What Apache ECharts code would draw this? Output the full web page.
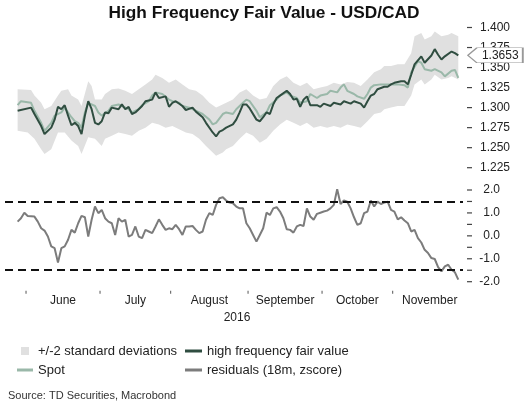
<!DOCTYPE html>
<html>
<head>
<meta charset="utf-8">
<script src="https://cdn.jsdelivr.net/npm/echarts@6/dist/echarts.min.js"></script>
<style>html,body{margin:0;padding:0;background:#fff}#c{width:528px;height:406px}</style>
</head>
<body>
<div id="c"></div>
<script>
// Business-day calendar (categories): index 0 = 2016-05-27
const firstDay = '2016-05-27';
const lastDay = '2016-11-30';
const monthNames = ['January','February','March','April','May','June','July','August','September','October','November','December'];
const shownMonths = ['June','July','August','September','October','November'];
const yearLabel = '2016';

// [business-day index, value]
const fairValue = [[0,1.296],[4,1.300],[5,1.292],[7,1.277],[8,1.267],[10,1.275],[11,1.285],[12,1.301],[13,1.298],[14,1.303],[15,1.290],[16,1.278],[17,1.281],[18,1.277],[19,1.267],[20,1.290],[21,1.308],[22,1.298],[23,1.281],[24,1.279],[25,1.283],[26,1.294],[27,1.293],[28,1.300],[30,1.298],[31,1.304],[32,1.298],[33,1.301],[34,1.292],[35,1.294],[37,1.302],[38,1.308],[40,1.310],[41,1.319],[42,1.312],[44,1.314],[45,1.301],[46,1.306],[47,1.308],[49,1.302],[50,1.297],[52,1.300],[53,1.295],[55,1.288],[56,1.281],[58,1.269],[59,1.264],[60,1.270],[61,1.272],[62,1.275],[64,1.279],[65,1.285],[66,1.294],[67,1.304],[68,1.304],[69,1.299],[71,1.285],[72,1.283],[73,1.288],[74,1.294],[75,1.292],[76,1.304],[77,1.312],[78,1.315],[80,1.321],[81,1.317],[82,1.310],[83,1.311],[84,1.301],[85,1.310],[86,1.314],[87,1.303],[89,1.303],[90,1.301],[91,1.305],[93,1.302],[94,1.306],[96,1.304],[97,1.308],[99,1.305],[100,1.308],[102,1.305],[103,1.300],[104,1.308],[105,1.315],[106,1.317],[107,1.323],[109,1.326],[110,1.326],[111,1.329],[112,1.331],[114,1.333],[115,1.333],[116,1.329],[117,1.341],[118,1.354],[120,1.364],[121,1.356],[123,1.365],[124,1.373],[125,1.366],[126,1.360],[127,1.364],[129,1.370],[130,1.368],[131,1.3653]];

const spot = [[0,1.303],[1,1.308],[4,1.306],[5,1.296],[7,1.281],[8,1.271],[10,1.281],[11,1.290],[13,1.294],[14,1.300],[16,1.288],[17,1.283],[18,1.281],[19,1.275],[20,1.294],[21,1.306],[23,1.302],[24,1.294],[25,1.290],[27,1.296],[28,1.302],[30,1.304],[31,1.302],[33,1.298],[34,1.294],[36,1.298],[37,1.303],[39,1.308],[40,1.315],[41,1.319],[43,1.317],[45,1.310],[46,1.308],[48,1.306],[49,1.302],[51,1.300],[52,1.298],[54,1.294],[55,1.292],[57,1.285],[58,1.279],[59,1.281],[61,1.292],[62,1.294],[64,1.292],[65,1.298],[67,1.306],[68,1.310],[69,1.308],[71,1.296],[72,1.288],[74,1.294],[75,1.303],[77,1.310],[78,1.315],[80,1.319],[81,1.315],[83,1.312],[84,1.306],[86,1.308],[87,1.317],[89,1.312],[90,1.315],[92,1.317],[93,1.321],[95,1.319],[96,1.325],[97,1.329],[98,1.321],[100,1.317],[101,1.314],[103,1.311],[104,1.317],[105,1.325],[106,1.328],[108,1.329],[109,1.329],[110,1.329],[112,1.329],[113,1.329],[115,1.328],[116,1.325],[117,1.344],[119,1.358],[120,1.356],[121,1.348],[123,1.346],[124,1.348],[126,1.344],[127,1.339],[129,1.346],[130,1.347],[131,1.337]];

const bandUpper = [[0,1.323],[4,1.322],[5,1.315],[7,1.306],[8,1.298],[10,1.302],[12,1.315],[13,1.321],[15,1.323],[16,1.315],[18,1.310],[19,1.302],[21,1.333],[22,1.327],[23,1.310],[25,1.310],[26,1.317],[28,1.323],[30,1.324],[32,1.321],[34,1.317],[36,1.323],[38,1.329],[40,1.335],[41,1.341],[43,1.337],[45,1.331],[47,1.335],[49,1.329],[51,1.323],[53,1.321],[55,1.315],[57,1.306],[59,1.300],[60,1.302],[62,1.306],[64,1.310],[66,1.319],[68,1.323],[70,1.315],[72,1.310],[74,1.312],[76,1.327],[78,1.335],[80,1.339],[82,1.331],[84,1.327],[86,1.331],[88,1.323],[90,1.325],[92,1.327],[94,1.331],[96,1.329],[98,1.332],[100,1.331],[102,1.327],[104,1.335],[106,1.344],[108,1.348],[109,1.352],[111,1.352],[113,1.354],[115,1.354],[117,1.368],[118,1.389],[120,1.393],[121,1.385],[123,1.389],[124,1.395],[126,1.389],[128,1.391],[129,1.393],[131,1.389]];

const bandLower = [[0,1.271],[3,1.269],[5,1.261],[7,1.248],[8,1.242],[10,1.248],[12,1.269],[14,1.269],[16,1.259],[18,1.252],[19,1.242],[21,1.263],[23,1.261],[25,1.252],[26,1.261],[28,1.265],[30,1.269],[32,1.267],[34,1.265],[36,1.271],[38,1.275],[40,1.281],[42,1.279],[44,1.275],[46,1.277],[48,1.273],[50,1.269],[52,1.267],[54,1.261],[56,1.252],[58,1.244],[59,1.240],[61,1.244],[62,1.248],[64,1.252],[66,1.261],[68,1.269],[70,1.265],[72,1.256],[74,1.261],[76,1.271],[78,1.279],[80,1.285],[82,1.281],[84,1.277],[86,1.281],[88,1.275],[90,1.277],[92,1.275],[94,1.277],[96,1.275],[98,1.279],[100,1.277],[102,1.275],[104,1.283],[106,1.292],[108,1.294],[109,1.298],[111,1.300],[113,1.302],[115,1.302],[117,1.315],[118,1.329],[120,1.335],[121,1.329],[123,1.335],[124,1.341],[126,1.335],[128,1.337],[129,1.339],[131,1.335]];

const residuals = [[0,0.62],[1,0.77],[2,1.01],[3,0.87],[5,0.84],[6,0.62],[7,0.33],[8,0.23],[9,-0.03],[10,-0.46],[11,-0.54],[12,-1.16],[13,-0.54],[14,-0.46],[15,-0.17],[16,0.26],[17,0.14],[18,0.55],[19,0.87],[20,0.81],[21,-0.03],[22,0.70],[23,1.28],[24,0.99],[25,1.13],[26,0.77],[27,0.62],[28,0.55],[29,0.04],[30,0.77],[31,0.62],[32,0.70],[33,-0.03],[34,0.04],[35,0.41],[36,-0.03],[37,-0.10],[38,0.26],[39,0.19],[40,0.12],[41,0.41],[42,0.72],[43,0.48],[44,0.26],[45,0.33],[46,0.29],[47,0.48],[48,0.29],[49,0.04],[50,0.41],[51,0.41],[52,0.43],[53,0.26],[54,0.12],[55,0.19],[56,0.70],[57,0.99],[58,0.91],[59,1.35],[60,1.64],[61,1.68],[62,1.54],[63,1.45],[64,1.42],[65,1.28],[66,1.20],[67,1.20],[68,0.55],[69,0.33],[70,0.04],[71,-0.25],[72,0.04],[73,0.33],[74,1.01],[75,0.91],[76,1.20],[77,1.25],[78,1.06],[79,0.77],[80,0.29],[81,0.26],[82,0.14],[83,0.41],[84,0.48],[85,0.43],[86,1.20],[87,0.84],[88,0.70],[89,0.96],[90,1.01],[91,1.06],[92,1.10],[93,1.20],[94,1.35],[95,2.03],[96,1.39],[97,1.54],[98,1.49],[99,1.20],[100,0.81],[101,0.48],[102,0.55],[103,0.99],[104,1.06],[105,1.54],[106,1.28],[107,1.49],[108,1.39],[109,1.45],[110,1.49],[111,1.13],[112,1.06],[113,0.72],[114,0.81],[115,0.67],[116,0.55],[117,0.19],[118,0.26],[119,-0.10],[120,-0.29],[121,-0.61],[122,-0.75],[123,-0.97],[124,-1.01],[125,-1.36],[126,-1.55],[127,-1.33],[128,-1.26],[129,-1.48],[130,-1.59],[131,-1.91]];

const thresholds = [1.5, -1.5];
const topTicks = { min: 1.225, max: 1.400, step: 0.025 };
const bottomTicks = { min: -2, max: 2, step: 0.5 };

// ---- calendar helpers ----
function businessDays(a, b) {
  const out = [];
  const d = new Date(a + 'T00:00:00Z'), e = new Date(b + 'T00:00:00Z');
  while (d <= e) {
    const w = d.getUTCDay();
    if (w !== 0 && w !== 6) out.push(d.toISOString().slice(0, 10));
    d.setUTCDate(d.getUTCDate() + 1);
  }
  return out;
}
const days = businessDays(firstDay, lastDay);
const monthBounds = [];
const monthStartIdx = {};
for (let i = 1; i < days.length; i++) {
  if (days[i].slice(5, 7) !== days[i - 1].slice(5, 7)) {
    monthBounds.push(i - 0.5);
    monthStartIdx[monthNames[+days[i].slice(5, 7) - 1]] = i - 0.5;
  }
}
const monthCenters = [];
const centerName = {};
shownMonths.forEach((m, k) => {
  const s = monthStartIdx[m];
  const e = k + 1 < shownMonths.length ? monthStartIdx[shownMonths[k + 1]] : days.length - 0.5;
  const c = (s + e) / 2;
  monthCenters.push(c);
  centerName[c.toFixed(2)] = m;
});
const boundSet = {};
monthBounds.forEach(b => { boundSet[b.toFixed(2)] = true; });
const xLabelValues = monthBounds.concat(monthCenters).sort((a, b) => a - b);

function tickList(t) {
  const n = Math.round((t.max - t.min) / t.step);
  const out = [];
  for (let i = 0; i <= n; i++) out.push(+(t.min + i * t.step).toFixed(4));
  return out;
}

const FONT = 'Liberation Sans, Arial, sans-serif';
const xMin = -3.75, xMax = 132.4;
const lastFV = fairValue[fairValue.length - 1];
const noLine = { show: false, onZero: false };

// axis tick dashes on the right, placed through the axis scale
function tickSeries(gridIdx, t) {
  return {
    type: 'custom', xAxisIndex: gridIdx, yAxisIndex: gridIdx, silent: true, clip: false, z: 5,
    data: tickList(t).map(v => [xMax, v]),
    renderItem: (params, api) => {
      const p = api.coord([api.value(0), api.value(1)]);
      return { type: 'line', shape: { x1: p[0] + 4, y1: p[1], x2: p[0] + 9, y2: p[1] }, style: { stroke: '#444', lineWidth: 1.2 } };
    }
  };
}

const chart = echarts.init(document.getElementById('c'), null, { renderer: 'canvas' });
chart.setOption({
  animation: false,
  backgroundColor: '#fff',
  textStyle: { fontFamily: FONT },
  title: {
    text: 'High Frequency Fair Value - USD/CAD',
    left: 'center', top: 0,
    textStyle: { fontSize: 17.3, fontWeight: 'bold', color: '#111', fontFamily: FONT }
  },
  grid: [
    { left: 5, right: 65, top: 27.5, height: 140.2 },
    { left: 5, right: 65, top: 190, height: 91.7 }
  ],
  xAxis: [
    { type: 'value', gridIndex: 0, min: xMin, max: xMax, show: false, axisLine: { onZero: false } },
    {
      type: 'value', gridIndex: 1, min: xMin, max: xMax, offset: 8, position: 'bottom',
      axisLine: noLine, axisTick: { show: false },
      splitLine: { show: false },
      axisLabel: {
        customValues: xLabelValues, margin: 1, hideOverlap: false,
        verticalAlign: 'top',
        formatter: v => {
          const k = Number(v).toFixed(2);
          if (boundSet[k]) return '{t|}';
          return '{m|' + (centerName[k] || '') + '}';
        },
        rich: {
          t: { width: 1, height: 3, backgroundColor: '#555', padding: 0 },
          m: { fontSize: 12, color: '#222', fontFamily: FONT, padding: [6, 0, 0, 0], lineHeight: 14 }
        }
      }
    }
  ],
  yAxis: [
    {
      type: 'value', gridIndex: 0, position: 'right', offset: 4,
      min: topTicks.min, max: topTicks.max, interval: topTicks.step,
      axisLine: noLine, splitLine: { show: false }, axisTick: { show: false },
      axisLabel: { margin: 13, fontSize: 12, color: '#222', fontFamily: FONT, formatter: v => v.toFixed(3) }
    },
    {
      type: 'value', gridIndex: 1, position: 'right', offset: 4,
      min: bottomTicks.min, max: bottomTicks.max, interval: bottomTicks.step,
      axisLine: noLine, splitLine: { show: false }, axisTick: { show: false },
      axisLabel: {
        margin: 33, align: 'right', fontSize: 12, color: '#222', fontFamily: FONT,
        formatter: v => (Math.abs(v - Math.round(v)) < 1e-9 ? Number(v).toFixed(1) : '')
      }
    }
  ],
  legend: [
    {
      left: 12, top: 339, orient: 'vertical', itemWidth: 16, itemHeight: 8, itemGap: 5,
      selectedMode: false,
      textStyle: { fontSize: 13, color: '#222', fontFamily: FONT, lineHeight: 14 },
      data: [
        { name: '+/-2 standard deviations', icon: 'path://M0,0L1,0L1,1L0,1Z', itemStyle: { color: '#e0e0e0' } },
        { name: 'Spot', icon: 'path://M0,0L16,0L16,3L0,3Z', itemStyle: { color: '#9ab8a9' } }
      ]
    },
    {
      left: 180, top: 339, orient: 'vertical', itemWidth: 17, itemHeight: 8, itemGap: 5,
      selectedMode: false,
      textStyle: { fontSize: 13, color: '#222', fontFamily: FONT, lineHeight: 14 },
      data: [
        { name: 'high frequency fair value', icon: 'path://M0,0L17,0L17,3L0,3Z', itemStyle: { color: '#2f4d40' } },
        { name: 'residuals (18m, zscore)', icon: 'path://M0,0L17,0L17,3L0,3Z', itemStyle: { color: '#7c7c7c' } }
      ]
    }
  ],
  graphic: [
    { type: 'text', x: 237, y: 318, style: { text: yearLabel, fontSize: 12, fill: '#222', fontFamily: FONT, textAlign: 'center', textVerticalAlign: 'middle' } },
    { type: 'text', left: 8, top: 390, style: { text: 'Source: TD Securities, Macrobond', fontSize: 11, fill: '#333', fontFamily: FONT } }
  ],
  series: [
    {
      name: '+/-2 standard deviations', type: 'custom', xAxisIndex: 0, yAxisIndex: 0,
      silent: true, z: 1,
      itemStyle: { color: '#e0e0e0' },
      data: [[0, topTicks.min]],
      renderItem: (params, api) => {
        const pts = bandUpper.map(p => api.coord(p))
          .concat(bandLower.slice().reverse().map(p => api.coord(p)));
        return { type: 'polygon', shape: { points: pts }, style: { fill: '#e0e0e0' } };
      }
    },
    {
      name: 'Spot', type: 'line', xAxisIndex: 0, yAxisIndex: 0, z: 3,
      data: spot, showSymbol: false, symbol: 'none',
      lineStyle: { color: '#9ab8a9', width: 2 }, itemStyle: { color: '#9ab8a9' }
    },
    {
      name: 'high frequency fair value', type: 'line', xAxisIndex: 0, yAxisIndex: 0, z: 4,
      data: fairValue, showSymbol: false, symbol: 'none',
      lineStyle: { color: '#2f4d40', width: 2 }, itemStyle: { color: '#2f4d40' },
      markPoint: {
        silent: true,
        symbol: 'path://M0,7.5L9,0L55,0L55,15L9,15Z',
        symbolSize: [55, 15], symbolKeepAspect: false, symbolOffset: [37, 0],
        itemStyle: { color: '#fff', borderColor: '#999', borderWidth: 1 },
        label: { show: true, position: 'inside', offset: [5, 0], color: '#222', fontSize: 12, fontFamily: FONT, formatter: String(lastFV[1]) },
        data: [{ coord: lastFV }]
      }
    },
    {
      name: 'residuals (18m, zscore)', type: 'line', xAxisIndex: 1, yAxisIndex: 1, z: 3,
      data: residuals, showSymbol: false, symbol: 'none',
      lineStyle: { color: '#7c7c7c', width: 2 }, itemStyle: { color: '#7c7c7c' },
      markLine: {
        silent: true, symbol: 'none', label: { show: false },
        lineStyle: { color: '#111', width: 2, type: [8, 5] },
        data: thresholds.map(t => ({ yAxis: t }))
      }
    },
    tickSeries(0, topTicks),
    tickSeries(1, bottomTicks)
  ]
});
</script>
</body>
</html>
